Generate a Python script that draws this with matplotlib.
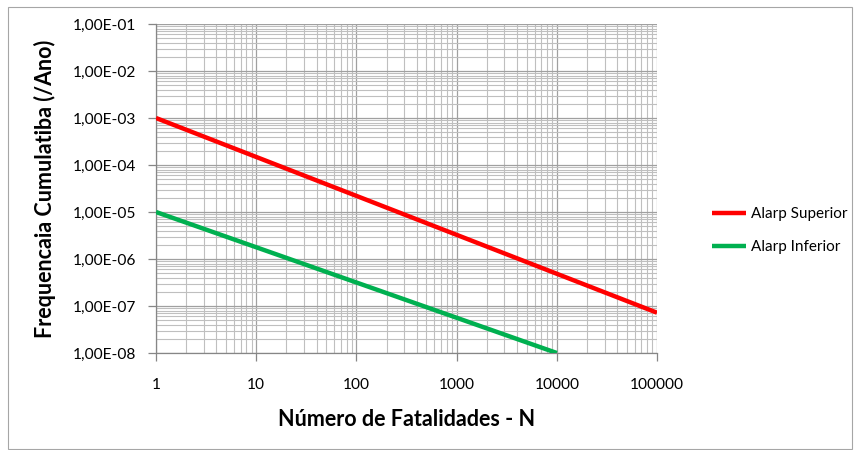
import matplotlib
matplotlib.use("Agg")
import matplotlib.pyplot as plt
from matplotlib.ticker import LogLocator, FuncFormatter, NullFormatter
from matplotlib.patches import Rectangle

# F-N criterion lines (number of fatalities vs cumulative frequency per year)
n_superior = [1, 100000]
f_superior = [1.0e-3, 7.2e-8]
n_inferior = [1, 10000]
f_inferior = [1.0e-5, 1.0e-8]
series_names = ["Alarp Superior", "Alarp Inferior"]
x_title = "Número de Fatalidades - N"
y_title = "Frequencaia Cumulatiba (/Ano)"

plt.rcParams["font.family"] = ["Lato", "DejaVu Sans"]

fig = plt.figure(figsize=(8.61, 4.5), dpi=100)
ax = fig.add_axes([156 / 861, 1 - 353 / 450, (657 - 156) / 861, (353 - 24) / 450])

# chart-area border
fig.patches.append(Rectangle((8 / 861, 1.5 / 450), 844 / 861, 441.5 / 450,
                             transform=fig.transFigure, fill=False,
                             edgecolor="#A6A6A6", linewidth=0.8))

ax.plot(n_superior, f_superior, color="#FF0000", linewidth=3.2,
        label=series_names[0], solid_capstyle="butt", zorder=3)
ax.plot(n_inferior, f_inferior, color="#00B050", linewidth=3.2,
        label=series_names[1], solid_capstyle="butt", zorder=3)

ax.set_xscale("log")
ax.set_yscale("log")
ax.set_xlim(1, 100000)
ax.set_ylim(1e-8, 1e-1)

ax.xaxis.set_major_locator(LogLocator(base=10, numticks=20))
ax.yaxis.set_major_locator(LogLocator(base=10, numticks=20))
ax.xaxis.set_minor_locator(LogLocator(base=10, subs=range(2, 10), numticks=40))
ax.yaxis.set_minor_locator(LogLocator(base=10, subs=range(2, 10), numticks=40))
ax.xaxis.set_minor_formatter(NullFormatter())
ax.yaxis.set_minor_formatter(NullFormatter())
ax.xaxis.set_major_formatter(FuncFormatter(lambda v, p: f"{v:.0f}"))
ax.yaxis.set_major_formatter(FuncFormatter(lambda v, p: f"{v:.2E}".replace(".", ",")))

ax.grid(which="major", color="#A0A0A0", linewidth=0.9)
ax.grid(which="minor", color="#BFBFBF", linewidth=0.8)
ax.set_axisbelow(True)

ax.tick_params(axis="both", which="major", direction="out", length=6,
               width=0.9, color="#868686", labelsize=11.2, labelcolor="black")
ax.tick_params(axis="y", which="major", pad=8)
ax.tick_params(axis="x", which="major", pad=12)
ax.tick_params(which="minor", length=0)

for side in ("top", "right"):
    ax.spines[side].set_visible(False)
for side in ("left", "bottom"):
    ax.spines[side].set_color("#868686")
    ax.spines[side].set_linewidth(0.9)

ax.set_xlabel(x_title, fontsize=15.5, fontweight="bold", labelpad=12)
ax.set_ylabel(y_title, fontsize=15.5, fontweight="bold", labelpad=12)

fig.legend(loc="upper left", bbox_to_anchor=(706 / 861, 1 - 201 / 450),
           frameon=False, fontsize=11, handlelength=2.2, handletextpad=0.35,
           labelspacing=1.25, borderaxespad=0)

fig.savefig("out.png", dpi=100)
